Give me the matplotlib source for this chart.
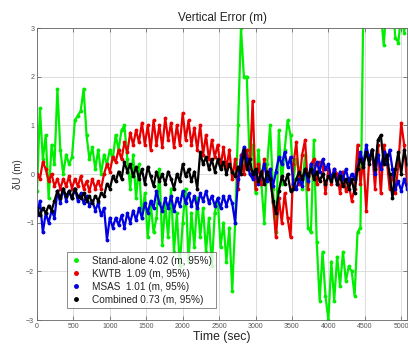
import numpy as np
import matplotlib.pyplot as plt
from matplotlib.lines import Line2D

# sample spacing of the logged solutions (sec)
dt = 40

stand_alone = [
    -0.35, 1.35, 0.3, 0.8, -0.5, 0.6, 0.2, 1.75, 0.5, 0.0,
    0.4, 0.2, 0.35, 1.1, 1.2, 1.3, 1.75, 0.8, 0.3, 0.55,
    0.1, 0.5, 0.0, 0.4, 0.2, 0.5, 0.3, 0.8, 0.5, 0.9,
    1.0, 0.3, -0.3, 0.4, -0.5, 0.2, -0.9, -0.4, -1.3, -0.6,
    -1.2, -0.9, 0.1, -1.45, -0.6, -1.3, -0.3, -1.6, -0.8, -1.9,
    -1.0, -0.3, -1.8, -0.8, -1.5, -0.5, -1.3, -0.7, -1.6, -0.9,
    -1.9, -0.8, -0.5, -1.5, -1.0, -1.8, -1.1, -2.4, -1.0, 1.0,
    3.0, 2.0, 2.0, 0.2, 0.6, -0.4, 0.5, -0.2, -1.0, 0.2,
    1.0, -0.3, -1.2, 0.9, -0.2, 0.5, 1.1, 0.8, -0.1, 0.3,
    0.1, -0.3, 0.4, -1.1, -1.2, 0.7, -1.4, -2.6, -1.6, -2.5,
    -3.0, -1.8, -2.6, -1.7, -2.3, -1.6, -2.2, -1.9, -2.0, -2.5,
    -1.2, -1.1, 3.5, 3.4, 3.6, 3.5, 3.4, 3.6, 3.3, 2.65,
    3.5, 3.4, 3.5, 2.8, 2.7, 3.3, 2.9, 3.4, 2.75, 3.3,
]

kwtb = [
    0.0, -0.1, 0.25, 0.1, -0.15, 0.0, -0.25, -0.1, -0.3, -0.1,
    -0.25, -0.05, -0.3, -0.1, -0.25, -0.05, -0.3, -0.15, -0.35, -0.1,
    -0.3, -0.15, -0.3, 0.0, 0.2, 0.05, 0.35, 0.25, 0.5, 0.3,
    0.65, 0.45, 0.85, 0.6, 0.9, 0.65, 1.05, 0.6, 1.0, 0.5,
    1.1, 0.6, 1.0, 0.55, 1.15, 0.7, 1.05, 0.55, 1.0, 0.6,
    1.25, 0.7, 1.1, 0.6, 0.95, 0.5, 1.0, 0.4, 0.8, 0.3,
    0.7, 0.35, 0.6, 0.15, 0.55, 0.1, 0.5, -0.1, 0.3, -0.3,
    0.4, 0.0, 0.5, 0.1, 1.5, -0.3, 0.2, -0.2, 0.3, -0.1,
    0.1, -0.6, -1.3, -0.5, -1.0, -0.4, -0.9, -1.3, 0.2, 0.65,
    -0.2, 0.4, 0.7, -0.3, 0.2, 0.3, -0.2, 0.25, 0.2, -0.4,
    0.1, -0.2, 0.1, 0.0, -0.4, 0.05, -0.35, -0.2, -0.55, -0.3,
    0.6, -0.2, 0.3, -0.75, 0.3, 0.5, -0.3, 0.6, -0.4, 0.6,
    0.3, -0.3, 0.0, -0.4, 0.2, 1.05, 0.6, -0.2, 0.4, 0.1,
]

msas = [
    -0.85, -0.55, -1.2, -0.8, -1.0, -0.75, -0.9, -0.35, -0.6, -0.3,
    -0.55, -0.35, -0.5, -0.3, -0.55, -0.4, -0.6, -0.45, -0.65, -0.55,
    -0.75, -0.6, -0.85, -0.7, -1.35, -0.9, -1.1, -0.9, -1.05, -0.85,
    -1.1, -0.8, -1.0, -0.75, -0.95, -0.7, -0.9, -0.6, -0.8, -0.55,
    -0.7, -0.35, -0.6, -0.75, -0.5, -0.7, -0.45, -0.75, -0.5, -0.65,
    -0.35, -0.6, -0.4, -0.65, -0.45, -0.7, -0.4, -0.55, -0.35, -0.6,
    -0.45, -0.65, -0.5, -0.7, -0.45, -0.65, -0.45, -0.6, -1.0, -0.1,
    0.3, 0.55, 0.3, 0.0, -0.1, 0.05, -0.2, 0.0, 0.2, -0.15,
    0.1, -0.25, 0.05, 0.35, 0.2, 0.45, 0.15, 0.35, -0.2, -0.3,
    -0.1, -0.25, 0.1, -0.15, 0.2, 0.0, 0.25, 0.05, 0.3, 0.1,
    0.2, -0.1, 0.1, -0.2, 0.05, -0.1, 0.1, -0.15, 0.0, -0.1,
    0.1, 0.45, 0.2, 0.6, 0.3, 0.5, 0.0, 0.4, 0.1, 0.45,
    0.2, 0.5, 0.1, -0.3, -0.15, -0.35, -0.1, -0.3, -0.2, -0.35,
]

combined = [
    -0.7, -0.85, -0.7, -0.8, -0.65, -0.75, -0.55, -0.35, -0.5, -0.3,
    -0.45, -0.35, -0.5, -0.3, -0.45, -0.5, -0.4, -0.55, -0.45, -0.6,
    -0.45, -0.55, -0.4, -0.45, -0.2, -0.3, -0.05, -0.15, 0.05, -0.1,
    0.25, 0.05, 0.2, -0.05, 0.15, -0.1, 0.1, -0.2, 0.15, -0.05,
    -0.25, 0.05, -0.15, 0.0, -0.2, 0.05, -0.1, -0.3, 0.0, -0.15,
    0.2, -0.05, 0.1, -0.15, 0.05, -0.3, 0.45, 0.2, 0.35, 0.1,
    0.3, 0.05, 0.3, 0.1, 0.25, 0.0, 0.2, 0.05, -0.05, 0.15,
    0.0, 0.5, 0.1, 0.3, 0.0, 0.1, -0.15, 0.05, -0.2, 0.05,
    -0.1, -0.55, -0.8, -0.35, -0.05, -0.2, 0.0, -0.35, -0.3, -0.1,
    0.05, -0.1, 0.1, -0.05, 0.1, -0.1, 0.05, -0.15, 0.0, -0.2,
    -0.05, -0.15, 0.0, -0.2, -0.05, -0.25, -0.1, -0.3, -0.1, -0.4,
    0.1, 0.3, 0.15, 0.45, 0.2, 0.5, 0.1, 0.7, 0.8, 0.2,
    0.4, 0.0, -0.5, 0.1, 0.45, 0.0, 0.5, 0.2, 0.0, 0.3,
]

labels = [
    "Stand-alone 4.02 (m, 95%)",
    "KWTB  1.09 (m, 95%)",
    "MSAS  1.01 (m, 95%)",
    "Combined 0.73 (m, 95%)",
]
colors = ["#00ee00", "#e80000", "#0000e0", "black"]
series = [stand_alone, kwtb, msas, combined]

x_ticks = np.arange(0, 5001, 500)
y_ticks = [-3, -2, -1, 0, 1, 2, 3]

plt.rcParams["font.family"] = ["Liberation Sans", "DejaVu Sans"]

fig = plt.figure(figsize=(4.08, 3.47), dpi=100)
ax = fig.add_axes([0.0907, 0.0778, 0.907, 0.8415])

for vals, c in zip(series, colors):
    t = np.arange(len(vals)) * dt
    ax.plot(t, vals, color=c, lw=1.6, marker=".", ms=3.5)

ax.set_xlim(0, 5080)
ax.set_ylim(-3, 3)
ax.set_xticks(x_ticks)
ax.set_yticks(y_ticks)
ax.grid(True, color="#d8d8d8", lw=0.6)
ax.set_axisbelow(True)
ax.tick_params(direction="in", top=True, right=True, length=3, width=0.5,
               labelsize=5, labelcolor="#555555", pad=2, color="#555555")
for s in ax.spines.values():
    s.set_color("#666666")
    s.set_linewidth(0.6)

ax.set_title("Vertical Error (m)", fontsize=8.5, pad=5, color="#222222")
ax.set_xlabel("Time (sec)", fontsize=8.8, labelpad=1, color="#222222")
ax.set_ylabel("δU (m)", fontsize=7, labelpad=2, color="#333333")

handles = [Line2D([], [], ls="none", marker=".", ms=5, color=c) for c in colors]
leg = ax.legend(handles, labels, loc="lower left", bbox_to_anchor=(0.081, 0.041),
                fontsize=7.2, frameon=True, fancybox=False, handlelength=1.2,
                handletextpad=1.0, borderpad=0.35, labelspacing=0.3,
                edgecolor="#555555", borderaxespad=0)
leg.get_frame().set_linewidth(0.6)
for txt in leg.get_texts():
    txt.set_color("#222222")

fig.savefig("out.png", dpi=100)
